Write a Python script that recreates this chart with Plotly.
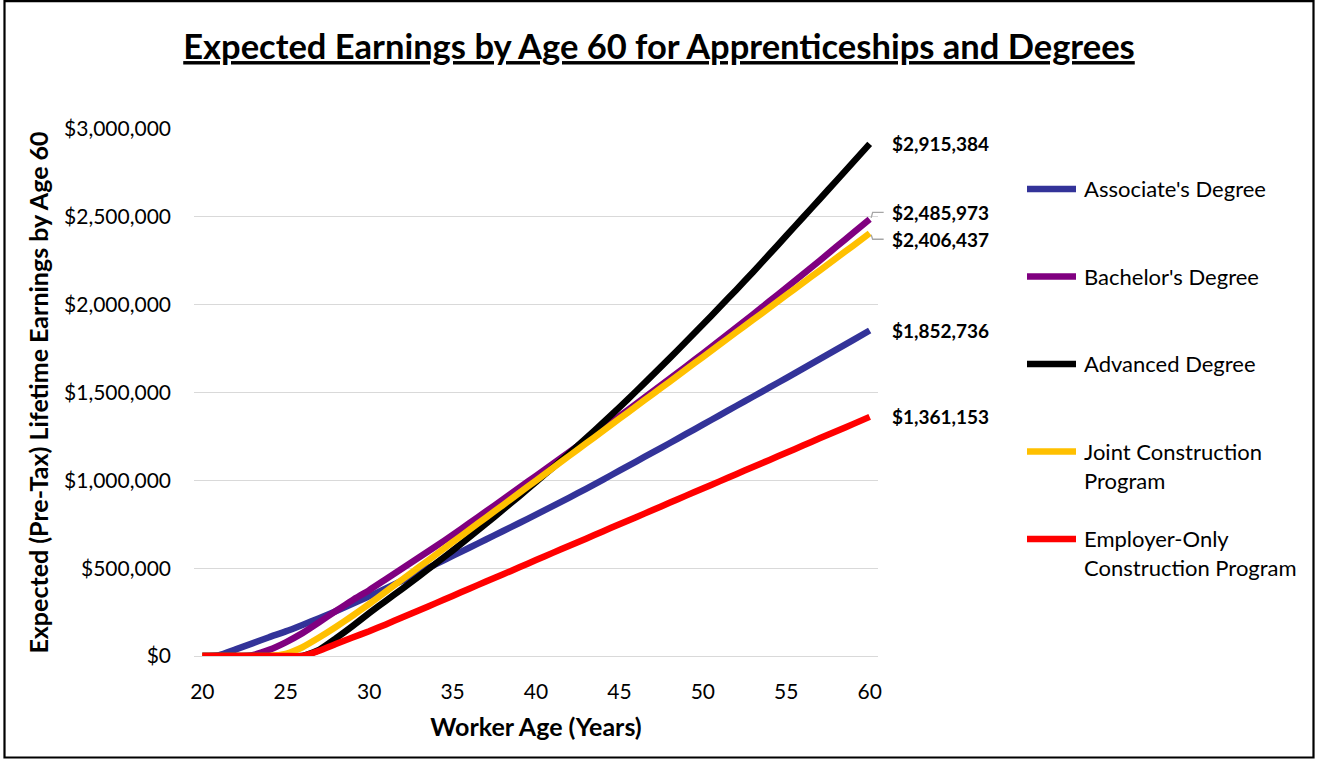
import plotly.graph_objects as go

# ---------------- data ----------------
ages = list(range(20, 61))

series_names = [
    "Associate's Degree",
    "Bachelor's Degree",
    "Advanced Degree",
    "Joint Construction<br>Program",
    "Employer-Only<br>Construction Program",
]
series_colors = ["#333399", "#800080", "#000000", "#FFC000", "#FF0000"]

associate = [0, 5000, 38000, 72000, 107000, 140000, 177000, 215000, 255000, 297000,
             340000, 385000, 430000, 476000, 523000, 570000, 616000, 663000, 710000, 757000,
             805000, 853000, 902000, 952000, 1003000, 1055000, 1107000, 1159000, 1211000, 1264000,
             1317000, 1370000, 1423000, 1476000, 1529000, 1582000, 1636000, 1690000, 1744000, 1798000,
             1852736]

bachelor = [0, 0, 0, 5000, 35000, 78000, 130000, 192000, 256000, 318000,
            375000, 437000, 499000, 562000, 625000, 689000, 756000, 823000, 890000, 958000,
            1026000, 1094000, 1162000, 1229000, 1297000, 1365000, 1435000, 1506000, 1577000, 1649000,
            1722000, 1795000, 1869000, 1944000, 2020000, 2096000, 2173000, 2250000, 2329000, 2408000,
            2485973]

advanced = [0, 0, 0, 0, 0, 0, 0, 35000, 100000, 170000,
            244000, 314000, 384000, 455000, 527000, 600000, 676000, 753000, 831000, 910000,
            990000, 1072000, 1155000, 1240000, 1327000, 1416000, 1507000, 1600000, 1694000, 1790000,
            1887000, 1985000, 2084000, 2185000, 2288000, 2392000, 2496000, 2600000, 2705000, 2810000,
            2915384]

joint = [0, 0, 0, 0, 0, 12000, 50000, 105000, 165000, 229000,
         296000, 366000, 437000, 507000, 577000, 648000, 718000, 788000, 858000, 929000,
         999000, 1069000, 1140000, 1210000, 1280000, 1351000, 1421000, 1491000, 1561000, 1632000,
         1702000, 1772000, 1843000, 1913000, 1983000, 2054000, 2124000, 2194000, 2265000, 2335000,
         2406437]

employer = [0, 0, 0, 0, 0, 0, 0, 30000, 68000, 105000,
            141000, 180000, 220000, 260000, 301000, 342000, 383000, 424000, 464000, 505000,
            546000, 587000, 627000, 668000, 709000, 750000, 790000, 831000, 872000, 913000,
            953000, 994000, 1035000, 1076000, 1116000, 1157000, 1198000, 1239000, 1279000, 1320000,
            1361153]

series_values = [associate, bachelor, advanced, joint, employer]

x_ticks = [20, 25, 30, 35, 40, 45, 50, 55, 60]

title_text = "Expected Earnings by Age 60 for Apprenticeships and Degrees"
x_title = "Worker Age (Years)"
y_title = "Expected (Pre-Tax) Lifetime Earnings by Age 60"

# ---------------- layout geometry ----------------
W, H = 1318, 761
ML, MR, MT, MB = 194, 440, 129, 105
PW, PH = W - ML - MR, H - MT - MB
FONT = "Lato"
XR = [19.5, 60.5]
YR = [0, 3000000]


def px(xp):
    return (xp - ML) / PW


def py(yp):
    return (H - MB - yp) / PH


fig = go.Figure()
for name, color, vals in zip(series_names, series_colors, series_values):
    fig.add_trace(go.Scatter(
        x=ages, y=vals, mode="lines", name=name,
        line=dict(color=color, width=6.5, shape="spline", smoothing=0.5),
        showlegend=False,
    ))

shapes = []
annotations = []

# end-of-line value labels
label_shift = [0, 7, 0, -6, 0]
for vals, dy in zip(series_values, label_shift):
    annotations.append(dict(
        x=ages[-1], y=vals[-1], xref="x", yref="y",
        text="<b>${:,.0f}</b>".format(vals[-1]),
        showarrow=False, xanchor="left", yanchor="middle",
        xshift=20, yshift=dy,
        font=dict(family=FONT, size=19, color="#000000"),
    ))
    if dy != 0:
        xe = (ages[-1] - XR[0]) / (XR[1] - XR[0])
        ye = (vals[-1] - YR[0]) / (YR[1] - YR[0])
        path = "M {:.5f},{:.5f} L {:.5f},{:.5f} L {:.5f},{:.5f}".format(
            xe + 1.5 / PW, ye + (1.5 if dy > 0 else -1.5) / PH,
            xe + 3 / PW, ye + dy / PH,
            xe + 14 / PW, ye + dy / PH)
        shapes.append(dict(type="path", path=path, xref="paper", yref="paper",
                           line=dict(color="#A6A6A6", width=1.3)))

# custom legend
leg_top, leg_step = 189, 87.5
for i, (name, color) in enumerate(zip(series_names, series_colors)):
    yy = py(leg_top + i * leg_step)
    shapes.append(dict(type="line", xref="paper", yref="paper",
                       x0=px(1027), x1=px(1076), y0=yy, y1=yy,
                       line=dict(color=color, width=6.5)))
    annotations.append(dict(
        x=px(1082), y=yy, xref="paper", yref="paper", text=name,
        showarrow=False, xanchor="left", yanchor="top", yshift=16,
        align="left", font=dict(family=FONT, size=22, color="#000000"),
    ))

# outer border
shapes.append(dict(type="rect", xref="paper", yref="paper",
                   x0=px(4.5), x1=px(1313.5), y0=py(757.5), y1=py(1.2),
                   line=dict(color="#000000", width=2.2), fillcolor="rgba(0,0,0,0)"))

fig.update_layout(
    width=W, height=H, autosize=False,
    margin=dict(l=ML, r=MR, t=MT, b=MB),
    paper_bgcolor="white", plot_bgcolor="white",
    font=dict(family=FONT, color="#000000"),
    title=dict(text="<b><u>" + title_text + "</u></b>", x=0.5, xref="container",
               xanchor="center", y=1 - 47 / H, yref="container", yanchor="middle",
               font=dict(family=FONT, size=34.5, color="#000000")),
    xaxis=dict(range=XR, tickvals=x_ticks, showgrid=False, zeroline=False,
               showline=False, ticks="", ticklabelstandoff=21,
               tickfont=dict(family=FONT, size=21, color="#000000"),
               title=dict(text="<b>" + x_title + "</b>", standoff=16,
                          font=dict(family=FONT, size=25, color="#000000"))),
    yaxis=dict(range=YR, dtick=500000, tickprefix="$", tickformat=",d",
               showgrid=True, gridcolor="#D9D9D9", gridwidth=1.3,
               zeroline=True, zerolinecolor="#D9D9D9", zerolinewidth=1.3,
               showline=False, ticks="", ticklabelstandoff=22,
               tickfont=dict(family=FONT, size=21, color="#000000"),
               title=dict(text="<b>" + y_title + "</b>", standoff=8,
                          font=dict(family=FONT, size=25, color="#000000"))),
    shapes=shapes, annotations=annotations,
)

fig.write_html("out.html", config={"displayModeBar": False},
               post_script="document.body.style.margin='0px';")
